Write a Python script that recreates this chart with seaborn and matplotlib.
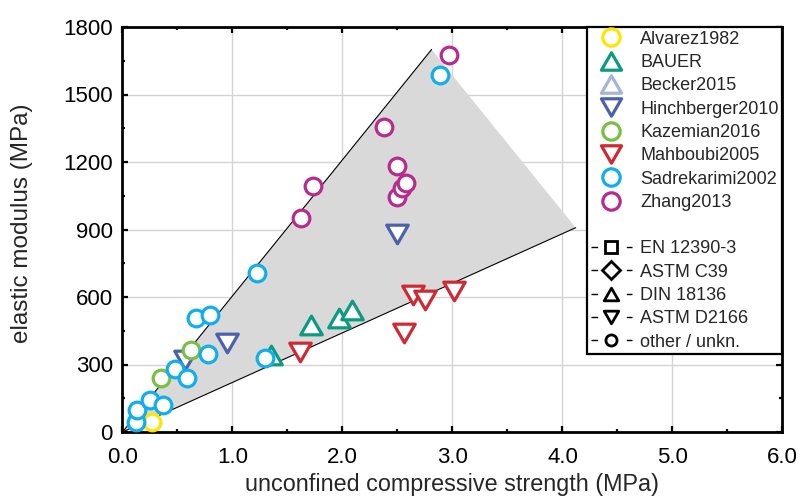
import matplotlib
matplotlib.use("Agg")
import matplotlib.pyplot as plt
from matplotlib.lines import Line2D
from matplotlib.path import Path
from matplotlib.ticker import MultipleLocator, FormatStrFormatter
import pandas as pd
import seaborn as sns

# ---- data: unconfined compressive strength (MPa) vs elastic modulus (MPa) ----
sources = ["Alvarez1982", "BAUER", "Becker2015", "Hinchberger2010",
           "Kazemian2016", "Mahboubi2005", "Sadrekarimi2002", "Zhang2013"]
source_colors = ["#ffe500", "#0c9a80", "#a6b4db", "#4a61ac",
                 "#79bf45", "#cf2a33", "#10aeec", "#b72a8e"]
source_shapes = ["circle", "up", "up", "down", "circle", "down", "circle", "circle"]

alvarez_ucs = [0.27]
alvarez_e = [46]
bauer_ucs = [1.35, 1.71, 1.97, 2.09]
bauer_e = [342, 475, 505, 542]
becker_ucs = []
becker_e = []
hinchberger_ucs = [0.57, 0.95, 2.50]
hinchberger_e = [320, 395, 878]
kazemian_ucs = [0.35, 0.62]
kazemian_e = [239, 364]
mahboubi_ucs = [1.61, 2.56, 2.64, 2.75, 3.01]
mahboubi_e = [357, 440, 609, 587, 628]
sadrekarimi_ucs = [0.12, 0.13, 0.25, 0.37, 0.48, 0.59, 0.67, 0.78, 0.80, 1.22, 1.30, 2.89]
sadrekarimi_e = [46, 98, 142, 120, 279, 239, 508, 345, 520, 708, 327, 1587]
zhang_ucs = [1.62, 1.73, 2.38, 2.50, 2.50, 2.54, 2.58, 2.97]
zhang_e = [952, 1093, 1354, 1182, 1046, 1083, 1105, 1676]

source_ucs = [alvarez_ucs, bauer_ucs, becker_ucs, hinchberger_ucs,
              kazemian_ucs, mahboubi_ucs, sadrekarimi_ucs, zhang_ucs]
source_e = [alvarez_e, bauer_e, becker_e, hinchberger_e,
            kazemian_e, mahboubi_e, sadrekarimi_e, zhang_e]

# envelope of the data: upper and lower bounding lines
upper_ucs = [0.0, 2.81]
upper_e = [0, 1700]
lower_ucs = [0.0, 4.12]
lower_e = [0, 908]

standards = ["EN 12390-3", "ASTM C39", "DIN 18136", "ASTM D2166", "other / unkn."]
standard_shapes = ["square", "diamond", "up", "down", "circle"]

x_ticks = [0, 1, 2, 3, 4, 5, 6]
y_ticks = [0, 300, 600, 900, 1200, 1500, 1800]

# ---- marker shapes ----
def closed(verts):
    return Path(verts + [verts[0]], closed=True)

shape_markers = {
    "circle": "o",
    "up": closed([(-1, -0.866), (1, -0.866), (0, 0.866)]),
    "down": closed([(-1, 0.866), (1, 0.866), (0, -0.866)]),
    "square": "s",
    "diamond": "D",
}
shape_sizes = {"circle": 12, "up": 15.5, "down": 15.5}

# ---- style ----
sns.set_style("ticks")
plt.rcParams["font.family"] = ["Liberation Sans", "DejaVu Sans"]
plt.rcParams["font.size"] = 16

fig, ax = plt.subplots(figsize=(7.99, 5.0), dpi=100)
fig.subplots_adjust(left=0.1533, right=0.9793, bottom=0.136, top=0.946)

# shaded envelope and its bounding lines
ax.fill([upper_ucs[0], upper_ucs[1], lower_ucs[1]],
        [upper_e[0], upper_e[1], lower_e[1]],
        color="#d9d9d9", lw=0, zorder=1)
sns.lineplot(x=upper_ucs, y=upper_e, ax=ax, color="black", lw=0.8, zorder=1.5)
sns.lineplot(x=lower_ucs, y=lower_e, ax=ax, color="black", lw=0.8, zorder=1.5)

# data points per source
for name, col, shp, xs, ys in zip(sources, source_colors, source_shapes, source_ucs, source_e):
    if not xs:
        continue
    df = pd.DataFrame({"ucs": xs, "E": ys})
    sns.scatterplot(data=df, x="ucs", y="E", ax=ax, marker=shape_markers[shp],
                    s=shape_sizes[shp] ** 2, color="white", edgecolor=col,
                    linewidth=2.3, zorder=3, legend=False)

# ---- axes ----
ax.set_xlim(0, 6)
ax.set_ylim(0, 1800)
ax.set_xticks(x_ticks)
ax.set_yticks(y_ticks)
ax.xaxis.set_major_formatter(FormatStrFormatter("%.1f"))
ax.xaxis.set_minor_locator(MultipleLocator(0.5))
ax.yaxis.set_minor_locator(MultipleLocator(150))
ax.tick_params(which="both", direction="in", top=True, right=True,
               width=1.6, colors="black", labelsize=16)
ax.tick_params(which="major", length=4.5)
ax.tick_params(which="minor", length=2.5)
ax.tick_params(axis="x", which="major", pad=11)
ax.tick_params(axis="y", which="major", pad=7)
for sp in ax.spines.values():
    sp.set_linewidth(2.0)
    sp.set_color("black")
ax.grid(True, which="major", color="#d3d3d3", lw=1.0)
ax.set_axisbelow(True)

ax.set_xlabel("unconfined compressive strength (MPa)", fontsize=16.8)
ax.set_ylabel("elastic modulus (MPa)", fontsize=17.5)
ax.xaxis.set_label_coords(0.5, -0.101)
ax.yaxis.set_label_coords(-0.135, 0.515)

# ---- legend ----
handles = []
legend_sizes = {"circle": 12.5, "up": 14.5, "down": 14.5}
for name, col, shp in zip(sources, source_colors, source_shapes):
    handles.append(Line2D([], [], linestyle="None", marker=shape_markers[shp],
                          markersize=legend_sizes[shp],
                          markerfacecolor="white", markeredgecolor=col,
                          markeredgewidth=2.3, label=name))
handles.append(Line2D([], [], linestyle="None", label=" "))
std_sizes = {"square": 8.5, "diamond": 9.5, "up": 10.5, "down": 10.5, "circle": 8}
for name, shp in zip(standards, standard_shapes):
    handles.append(Line2D([], [], color="black", lw=1.0, linestyle=(0, (4.8, 20.6)),
                          marker=shape_markers[shp], markersize=std_sizes[shp],
                          markerfacecolor="white", markeredgecolor="black",
                          markeredgewidth=2.0, label=name))

leg = ax.legend(handles=handles, loc="upper right", borderaxespad=0,
                fontsize=13, handlelength=2.3, handletextpad=0.45,
                labelspacing=0.35, borderpad=0.2, frameon=True,
                fancybox=False, framealpha=1)
leg.get_frame().set_edgecolor("black")
leg.get_frame().set_linewidth(1.6)
leg.set_zorder(10)

fig.savefig("out.png", dpi=100)
